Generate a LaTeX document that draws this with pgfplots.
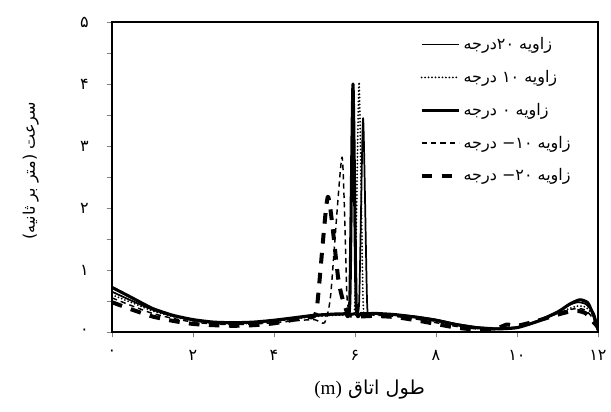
\documentclass[border=0pt]{standalone}
\usepackage{pgfplots}
\pgfplotsset{compat=1.18}
\usepackage{fontspec}
\setmainfont{Liberation Serif}
\newfontfamily\arabicfont[Script=Arabic]{DejaVu Sans}
\TeXXeTstate=1

\begin{document}
\begin{tikzpicture}
\begin{axis}[
  scale only axis,
  width=364.5pt, height=232.5pt,
  xmin=0, xmax=12, ymin=0, ymax=5,
  axis line style={line width=1.6pt},
  tick pos=left,
  tick align=outside,
  major tick length=4pt, minor tick length=4pt,
  every tick/.style={gray, line width=0.6pt},
  xtick={0,2,...,12},
  xticklabels={۰,۲,۴,۶,۸,۱۰,۱۲},
  ytick={0,1,...,5},
  yticklabels={۰,۱,۲,۳,۴,۵},
  minor ytick={0.5,1.5,...,4.5},
  ticklabel style={font=\arabicfont\large},
  yticklabel style={xshift=-10pt},
  xticklabel style={yshift=-6pt},
  xlabel={\arabicfont\Large\beginR طول اتاق \beginL{\rmfamily (m)}\endL\endR},
  xlabel style={at={(rel axis cs:0.53,0)}, anchor=center, yshift=-43.5pt},
  ylabel={\arabicfont\large\beginR سرعت (متر بر ثانیه)\endR},
  ylabel style={at={(rel axis cs:0,0.52)}, anchor=center, yshift=61pt},
  legend style={at={(rel axis cs:0.958,0.968)}, anchor=north east,
    draw=none, fill=none, font=\arabicfont\large, row sep=10pt,
    cells={anchor=west}},
  legend image code/.code={\draw[#1] (0pt,0pt) -- (28pt,0pt);},
  every axis plot/.append style={black, line join=round, smooth, tension=0.35},
]
% 20 degrees
\addplot[line width=1.3pt] coordinates {
(0,0.65) (0.5,0.5) (1,0.36) (1.5,0.26) (2,0.19) (2.5,0.15) (3,0.14) (3.5,0.15)
(4,0.18) (4.5,0.22) (5,0.26) (5.5,0.28) (5.95,0.3) (6.1,0.45) (6.2,3.45) (6.3,0.45)
(6.4,0.3) (7,0.28) (7.5,0.25) (8,0.2) (8.5,0.13) (9,0.08) (9.5,0.06) (10,0.08)
(10.5,0.18) (11,0.33) (11.3,0.44) (11.5,0.48) (11.7,0.45) (11.9,0.3) (12,0.05)};
\addlegendentry{\beginR زاویه ۲۰درجه\endR}
% 10 degrees
\addplot[line width=1.5pt, line cap=round, dash pattern=on 0pt off 2.6pt] coordinates {
(0,0.6) (0.5,0.47) (1,0.34) (1.5,0.25) (2,0.18) (2.5,0.14) (3,0.13) (3.5,0.14)
(4,0.17) (4.5,0.21) (5,0.25) (5.5,0.27) (5.9,0.29) (6.0,0.5) (6.1,4.03) (6.2,0.5)
(6.3,0.3) (7,0.27) (7.5,0.23) (8,0.17) (8.5,0.1) (9,0.06) (9.5,0.04) (10,0.07)
(10.5,0.16) (11,0.3) (11.3,0.38) (11.5,0.42) (11.7,0.4) (11.9,0.25) (12,0.05)};
\addlegendentry{\beginR زاویه ۱۰ درجه\endR}
% 0 degrees
\addplot[line width=2.3pt] coordinates {
(0,0.72) (0.5,0.55) (1,0.38) (1.5,0.27) (2,0.2) (2.5,0.16) (3,0.15) (3.5,0.16)
(4,0.19) (4.5,0.23) (5,0.27) (5.5,0.29) (5.75,0.3) (5.87,0.45) (5.95,4.0) (6.03,0.45)
(6.15,0.3) (6.5,0.3) (7,0.28) (7.5,0.24) (8,0.19) (8.5,0.12) (9,0.07) (9.5,0.05)
(10,0.07) (10.5,0.17) (11,0.32) (11.3,0.45) (11.55,0.52) (11.75,0.47) (11.9,0.25) (12,0.03)};
\addlegendentry{\beginR زاویه ۰ درجه\endR}
% -10 degrees
\addplot[line width=1.1pt, dash pattern=on 4pt off 3pt] coordinates {
(0,0.55) (0.5,0.42) (1,0.3) (1.5,0.22) (2,0.16) (2.5,0.13) (3,0.12) (3.5,0.13)
(4,0.15) (4.5,0.18) (5,0.2) (5.25,0.15) (5.4,0.6) (5.68,2.82) (5.8,0.6) (5.9,0.3)
(6.3,0.28) (7,0.25) (7.5,0.21) (8,0.15) (8.5,0.09) (9,0.05) (9.5,0.04) (10,0.08)
(10.5,0.17) (11,0.3) (11.3,0.36) (11.5,0.38) (11.7,0.35) (11.9,0.2) (12,0.05)};
\addlegendentry{\beginR زاویه ۱۰− درجه\endR}
% -20 degrees
\addplot[line width=3pt, dash pattern=on 8pt off 7pt] coordinates {
(0,0.48) (0.5,0.36) (1,0.25) (1.5,0.18) (2,0.13) (2.5,0.11) (3,0.1) (3.5,0.11)
(4,0.14) (4.5,0.2) (4.8,0.25) (5.05,0.35) (5.33,2.18) (5.6,0.8) (5.85,0.28) (6.5,0.26)
(7,0.24) (7.5,0.19) (8,0.13) (8.5,0.07) (9,0.04) (9.5,0.06) (9.75,0.12) (10,0.1)
(10.5,0.18) (11,0.28) (11.3,0.33) (11.5,0.34) (11.7,0.3) (11.9,0.15) (12,0.08)};
\addlegendentry{\beginR زاویه ۲۰− درجه\endR}
\end{axis}
\pgfresetboundingbox
\path[use as bounding box] ([xshift=-84pt,yshift=-59.25pt]current axis.south west)
  rectangle ([xshift=9.75pt,yshift=16.5pt]current axis.north east);
\end{tikzpicture}
\end{document}
